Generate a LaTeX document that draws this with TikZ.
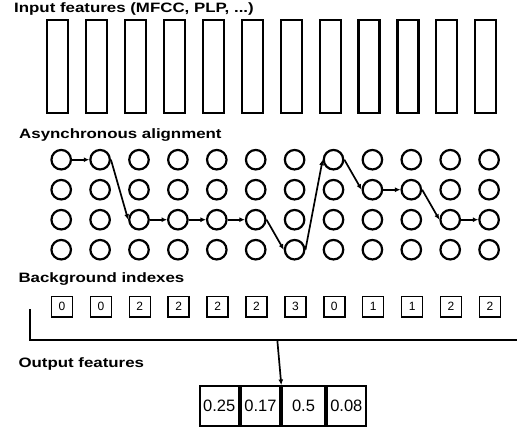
\documentclass[tikz,border=0pt]{standalone}
\usepackage{fontspec}
\setmainfont{Liberation Sans}
\usetikzlibrary{arrows.meta}
\tikzset{
  lbl/.style={anchor=west, inner sep=0pt, font=\fontsize{13.6}{15}\selectfont\bfseries},
  inbox/.style={draw, line width=2.2pt, minimum width=21pt, minimum height=93pt, inner sep=0pt},
  cell/.style={draw, circle, line width=2.2pt, minimum size=19.5pt, inner sep=0pt},
  idx/.style={draw, line width=1.5pt, minimum width=21pt, minimum height=20.5pt, inner sep=0pt, font=\fontsize{12}{13}\selectfont},
  outc/.style={draw, line width=2pt, minimum height=39.7pt, inner sep=0pt, anchor=west, font=\fontsize{16.5}{17}\selectfont},
  conn/.style={line width=1.7pt, -{Latex[length=5.5pt,width=5pt]}},
  brk/.style={line width=2pt},
}
\newcommand{\wide}[1]{\scalebox{1.24}[1]{#1}}
\begin{document}
\begin{tikzpicture}[x=1pt,y=-1pt]
\useasboundingbox (0,0) rectangle (517,429);
\node[lbl] (t1) at (14,9) {\wide{Input features (MFCC, PLP, ...)}};
\foreach \i in {0,...,11} {
  \node[inbox] (in\i) at ({57.8+38.9*\i},66.7) {};
}
\node[lbl] (t2) at (19,135) {\wide{Asynchronous alignment}};
\foreach \i in {0,...,11} {
  \foreach \r in {0,...,3} {
    \node[cell] (c\i-\r) at ({61.2+38.9*\i},{159.7+30*\r}) {};
  }
}
\draw[conn] (c0-0.east) -- (c1-0.west);
\draw[conn] (c1-0.east) -- (c2-2.west);
\draw[conn] (c2-2.east) -- (c3-2.west);
\draw[conn] (c3-2.east) -- (c4-2.west);
\draw[conn] (c4-2.east) -- (c5-2.west);
\draw[conn] (c5-2.east) -- (c6-3.west);
\draw[conn] (c6-3.east) -- (c7-0.west);
\draw[conn] (c7-0.east) -- (c8-1.west);
\draw[conn] (c8-1.east) -- (c9-1.west);
\draw[conn] (c9-1.east) -- (c10-2.west);
\draw[conn] (c10-2.east) -- (c11-2.west);
\node[lbl] (t3) at (18.3,279.5) {\wide{Background indexes}};
\foreach \i/\v in {0/0,1/0,2/2,3/2,4/2,5/2,6/3,7/0,8/1,9/1,10/2,11/2} {
  \node[idx] (b\i) at ({62+38.9*\i},306.5) {\v};
}
\coordinate (bl) at (30,309.3);
\coordinate (bc) at (30,340);
\coordinate (br) at (517,340);
\coordinate (bj) at (277.3,340);
\draw[brk] (bl) -- (bc) -- (br);
\node[lbl] (t4) at (18.3,364) {\wide{Output features}};
\node[outc, minimum width=39pt] (o1) at (198.7,405.8) {0.25};
\node[outc, minimum width=39.6pt] (o2) at (o1.east) {0.17};
\node[outc, minimum width=42.4pt] (o3) at (o2.east) {0.5};
\node[outc, minimum width=39.3pt] (o4) at (o3.east) {0.08};
\draw[conn] (bj) -- (o2.north east);
\end{tikzpicture}
\end{document}
